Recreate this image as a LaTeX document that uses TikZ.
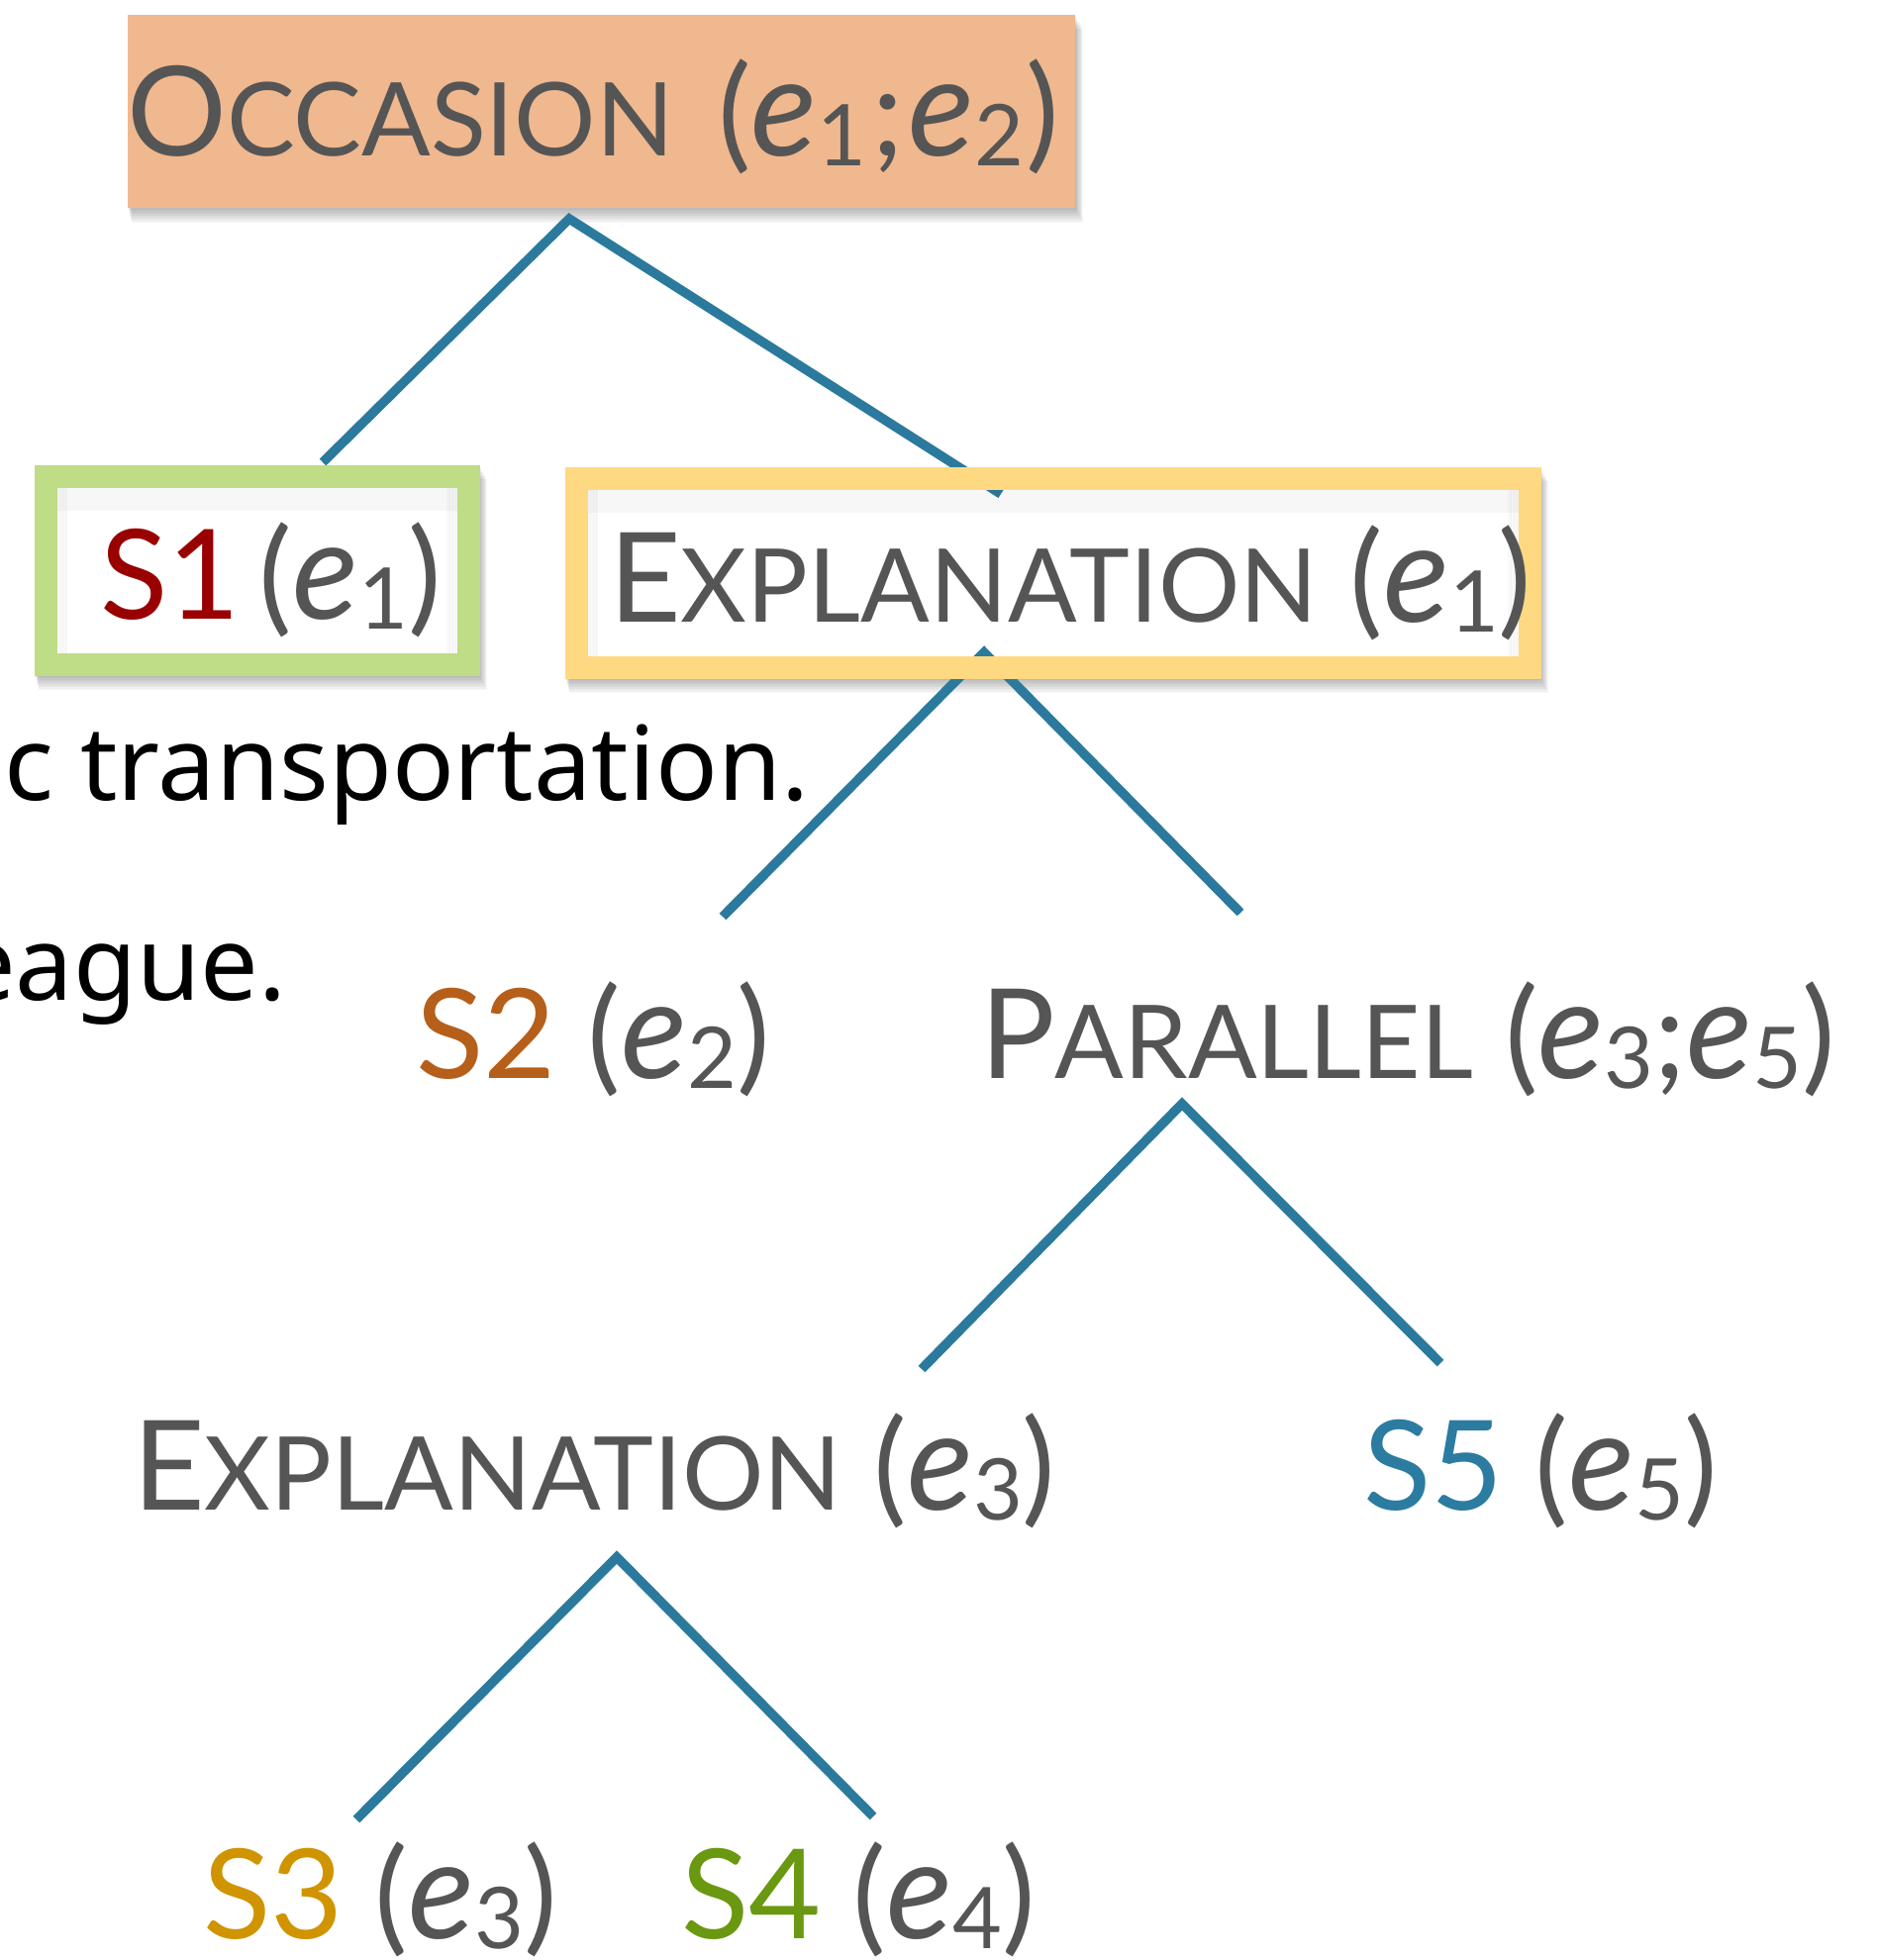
\documentclass[tikz,border=0pt]{standalone}
\usepackage{fontspec}
\setmainfont{Lato}
\newfontfamily\notefont{Noto Sans}
\usepackage{tikz}
\usetikzlibrary{positioning}

\definecolor{txtgray}{HTML}{555555}
\definecolor{treeblue}{HTML}{2B7A9E}
\definecolor{occfill}{HTML}{F0B88E}
\definecolor{segred}{HTML}{990000}
\definecolor{segorange}{HTML}{B65F1A}
\definecolor{seggold}{HTML}{D09400}
\definecolor{seggreen}{HTML}{6A9810}
\definecolor{segblue}{HTML}{2C7BA0}
\definecolor{framegreen}{HTML}{BFDC86}
\definecolor{frameyellow}{HTML}{FFD982}

\tikzset{x=1pt, y=1pt,
  rel/.style = {anchor=base west, inner sep=0, text=txtgray,
                font=\fontsize{126}{130}\selectfont},
  note/.style = {anchor=base west, inner sep=0, text=black,
                 font=\notefont\fontsize{104}{110}\selectfont},
  treeline/.style = {draw=treeblue, line width=9.5pt},
  boxframe/.style = {line width=23pt},
}

% small caps made by hand, event variables with subscripts
\newcommand\relname[2]{#1{\fontsize{103}{106}\selectfont #2}}
\newcommand\evt[1]{{\fontsize{140}{140}\selectfont\itshape e}\raisebox{-10pt}{\fontsize{86}{90}\selectfont #1}}

\begin{document}
\begin{tikzpicture}
    \useasboundingbox (0,0) rectangle (1896,-1980);

    % soft shadows under the three boxes
    \foreach \k in {1,...,10} {
        \fill[black, opacity=0.03] (129+\k*0.4,-15-\k*1.4) rectangle (1086+\k*0.8,-210-\k*1.5);
        \fill[black, opacity=0.03] (35+\k*0.4,-470-\k*1.4) rectangle (484+\k*0.8,-682-\k*1.5);
        \fill[black, opacity=0.03] (571+\k*0.4,-472-\k*1.4) rectangle (1556+\k*0.8,-685-\k*1.5);
    }
    \fill[white] (55,-490) rectangle (464,-662);
    \fill[white] (591,-492) rectangle (1536,-665);

    % the root relation
    \fill[occfill] (129,-15) rectangle (1086,-210);
    \node[rel] (occ) at (128,-158)
        {\relname{O}{CCASION}\hspace{12pt} (\evt{1}\hspace{5pt};\hspace{4pt}\evt{2}\hspace{2pt})};

    % tree edges
    \coordinate (occ-fork) at (575,-221);
    \coordinate (s1-end)   at (326,-467);
    \coordinate (ex1-end)  at (1011,-499);
    \coordinate (ex1-fork) at (994,-659);
    \coordinate (s2-end)   at (730,-926);
    \coordinate (par-end)  at (1253,-922);
    \coordinate (par-fork) at (1194,-1115);
    \coordinate (ex3-end)  at (931,-1383);
    \coordinate (s5-end)   at (1455,-1377);
    \coordinate (ex3-fork) at (623,-1573);
    \coordinate (s3-end)   at (360,-1838);
    \coordinate (s4-end)   at (882,-1835);

    \draw[treeline] (s1-end) -- (occ-fork) -- (ex1-end);
    \draw[treeline] (s2-end) -- (ex1-fork) -- (par-end);
    \draw[treeline] (ex3-end) -- (par-fork) -- (s5-end);
    \draw[treeline] (s3-end) -- (ex3-fork) -- (s4-end);

    % inner shading of the framed boxes
    \foreach \k in {1,...,8} {
        \draw[black, opacity=0.03, line width=3pt] (57,-490-\k*3) -- (462,-490-\k*3);
        \draw[black, opacity=0.03, line width=3pt] (593,-492-\k*3) -- (1534,-492-\k*3);
        \draw[black, opacity=0.025, line width=2pt] (55+\k*1.5,-490) -- (55+\k*1.5,-662)
                                                    (464-\k*1.5,-490) -- (464-\k*1.5,-662);
        \draw[black, opacity=0.025, line width=2pt] (591+\k*1.5,-492) -- (591+\k*1.5,-665)
                                                    (1536-\k*1.5,-492) -- (1536-\k*1.5,-665);
    }

    % framed boxes
    \draw[boxframe, framegreen]  (46,-481) rectangle (473,-671);
    \draw[boxframe, frameyellow] (582,-483) rectangle (1545,-674);

    % sentence fragments behind the tree
    \node[note] (line1) at (4,-808) {c transportation.};
    \node[note] (line2) at (-43,-1010) {eague.};

    % relation and segment labels
    \node[rel] (s1)  at (101,-625)  {\textcolor{segred}{S1}\hspace{19pt}(\evt{1})};
    \node[rel] (ex1) at (615,-628)  {\relname{E}{XPLANATION} (\evt{1})};
    \node[rel] (s2)  at (420,-1089) {\textcolor{segorange}{S2} (\evt{2})};
    \node[rel] (par) at (990,-1089) {\relname{P}{ARALLEL} (\evt{3};\evt{5})};
    \node[rel] (ex3) at (134,-1525) {\relname{E}{XPLANATION} (\evt{3})};
    \node[rel] (s5)  at (1377,-1525) {\textcolor{segblue}{S5} (\evt{5})};
    \node[rel] (s3)  at (205,-1958) {\textcolor{seggold}{S3} (\evt{3})};
    \node[rel] (s4)  at (688,-1958) {\textcolor{seggreen}{S4} (\evt{4})};
\end{tikzpicture}
\end{document}
